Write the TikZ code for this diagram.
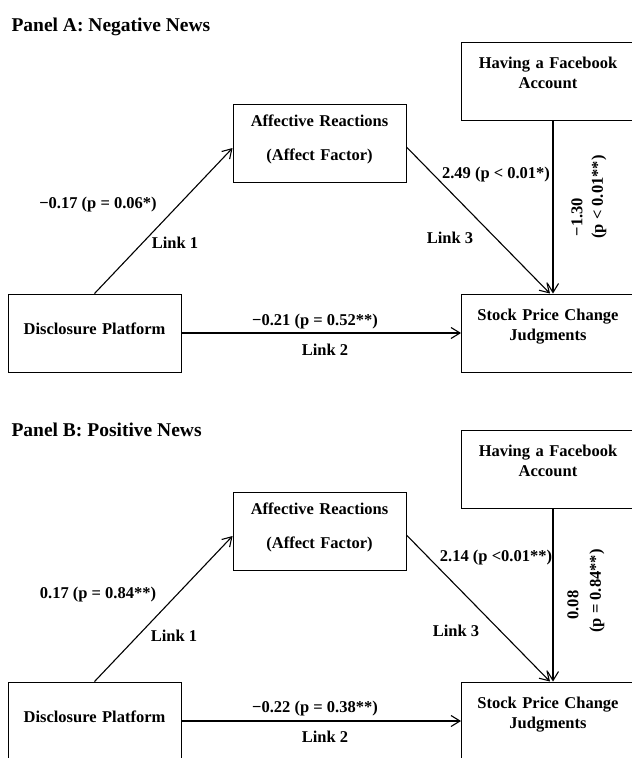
\documentclass[tikz,border=0pt]{standalone}
\usepackage{fontspec}
\setmainfont{Liberation Serif}
\usetikzlibrary{arrows.meta,positioning}

\tikzset{
  box/.style={draw, line width=0.9pt, text width=173pt, align=center, inner sep=0pt,
              text height=26.5pt, text depth=51.5pt},
  link/.style={-{Straight Barb[length=9pt,width=11pt]}, line width=1.1pt},
  lab/.style={font=\fontsize{16.5}{20}\selectfont\bfseries},
  paneltitle/.style={font=\fontsize{19.5}{23}\selectfont\bfseries, anchor=base west}
}

\begin{document}
\begin{tikzpicture}[x=1pt,y=-1pt,on grid]
\useasboundingbox (0,0) rectangle (632,758);
\clip (0,0) rectangle (632,758);

% Panel A
\node[paneltitle] (titleA) at (8,31) {Panel A: Negative News};
\node[box, lab, text height=40.5pt, text depth=37.5pt] (discA) at (94.5,333) {Disclosure Platform};
\node[box, lab] (stockA) [right=453.5pt of discA] {Stock Price Change\\Judgments};
\node[box, lab] (fbA) [above=252pt of stockA] {Having a Facebook\\Account};
\node[box, lab, text height=22.5pt, text depth=55.5pt] (affA) at (319.5,143) {Affective Reactions\\[14pt](Affect Factor)};

\draw[link] (discA.north) -- ([yshift=-5pt]affA.west);
\draw[link] (discA.east) -- (discA.east -| stockA.west);
\draw[link] ([yshift=-4pt]affA.east) -- ([xshift=2pt]stockA.north);
\draw[link] ([xshift=5pt]fbA.south) -- ([xshift=5pt]stockA.north);

\node[lab] (v1A) at (98,205) {−0.17 (p = 0.06*)};
\node[lab] (l1A) at (175,243) {Link 1};
\node[lab] (v2A) at (315,322) {−0.21 (p = 0.52**)};
\node[lab] (l2A) at (325,350) {Link 2};
\node[lab] (v3A) at (496,175) {2.49 (p < 0.01*)};
\node[lab] (l3A) at (450,238) {Link 3};
\node[lab, rotate=90] (v4A) at (577,217) {−1.30};
\node[lab, rotate=90] (p4A) at (599,197) {(p < 0.01**)};

% Panel B
\node[paneltitle] (titleB) at (8,436) {Panel B: Positive News};
\begin{scope}[yshift=-388pt]
\node[box, lab, text height=40.5pt, text depth=37.5pt] (discB) at (94.5,333) {Disclosure Platform};
\node[box, lab] (stockB) [right=453.5pt of discB] {Stock Price Change\\Judgments};
\node[box, lab] (fbB) [above=252pt of stockB] {Having a Facebook\\Account};
\node[box, lab, text height=22.5pt, text depth=55.5pt] (affB) at (319.5,143) {Affective Reactions\\[14pt](Affect Factor)};

\draw[link] (discB.north) -- ([yshift=-5pt]affB.west);
\draw[link] (discB.east) -- (discB.east -| stockB.west);
\draw[link] ([yshift=-4pt]affB.east) -- ([xshift=2pt]stockB.north);
\draw[link] ([xshift=5pt]fbB.south) -- ([xshift=5pt]stockB.north);

\node[lab] (v1B) at (98,207) {0.17 (p = 0.84**)};
\node[lab] (l1B) at (174,248) {Link 1};
\node[lab] (v2B) at (315,321) {−0.22 (p = 0.38**)};
\node[lab] (l2B) at (325,349) {Link 2};
\node[lab] (v3B) at (496,170) {2.14 (p <0.01**)};
\node[lab] (l3B) at (456,243) {Link 3};
\node[lab, rotate=90] (v4B) at (573,217) {0.08};
\node[lab, rotate=90] (p4B) at (597,203) {(p = 0.84**)};
\end{scope}
\end{tikzpicture}
\end{document}
